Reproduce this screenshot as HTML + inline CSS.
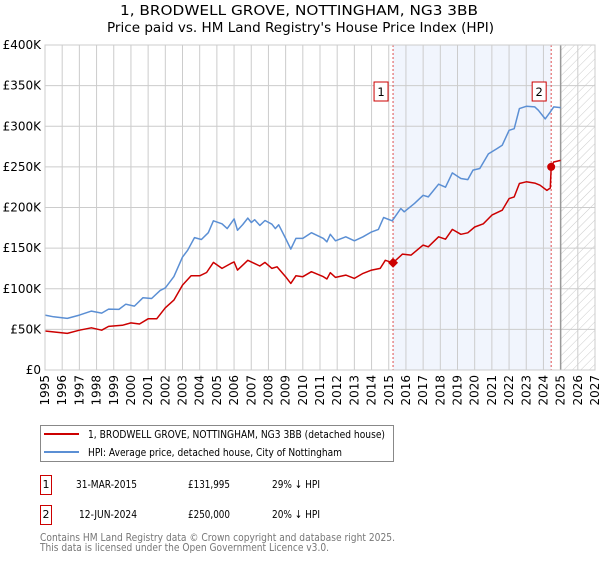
<!DOCTYPE html>
<html><head><meta charset="utf-8"><style>
body{margin:0;background:#fff;font-family:"Liberation Sans","DejaVu Sans",sans-serif;}
svg text{font-family:"DejaVu Sans","Liberation Sans",sans-serif;}
</style></head><body>
<svg id="c" width="600" height="560" xmlns="http://www.w3.org/2000/svg">
<defs><pattern id="hatch" width="6" height="6" patternUnits="userSpaceOnUse" patternTransform="rotate(45)"><line x1="0" y1="0" x2="0" y2="6" stroke="#ccc" stroke-width="1"/></pattern></defs>
<text x="120" y="15" font-size="13" fill="#000" textLength="358" lengthAdjust="spacingAndGlyphs">1, BRODWELL GROVE, NOTTINGHAM, NG3 3BB</text>
<text x="107" y="32" font-size="13" fill="#000" textLength="387" lengthAdjust="spacingAndGlyphs">Price paid vs. HM Land Registry's House Price Index (HPI)</text>
<g id="plot"></g>
<g>
<rect x="40.5" y="425.5" width="353" height="36" fill="#fff" stroke="#888"/>
<line x1="44" y1="434" x2="79" y2="434" stroke="#cc0000" stroke-width="2"/>
<text x="88" y="438" font-size="11" textLength="297" lengthAdjust="spacingAndGlyphs">1, BRODWELL GROVE, NOTTINGHAM, NG3 3BB (detached house)</text>
<line x1="44" y1="452" x2="79" y2="452" stroke="#5b8fd4" stroke-width="2"/>
<text x="88" y="456" font-size="11" textLength="254" lengthAdjust="spacingAndGlyphs">HPI: Average price, detached house, City of Nottingham</text>
</g>
<g font-size="11">
<rect x="40.5" y="475.5" width="11" height="19" fill="#fff" stroke="#cc0000"/><text x="46" y="488" text-anchor="middle">1</text>
<text x="76" y="488" textLength="61" lengthAdjust="spacingAndGlyphs">31-MAR-2015</text><text x="188" y="488" textLength="42" lengthAdjust="spacingAndGlyphs">£131,995</text><text x="272" y="488" textLength="48" lengthAdjust="spacingAndGlyphs">29% ↓ HPI</text>
<rect x="40.5" y="505.5" width="11" height="19" fill="#fff" stroke="#cc0000"/><text x="46" y="518" text-anchor="middle">2</text>
<text x="79" y="518" textLength="58" lengthAdjust="spacingAndGlyphs">12-JUN-2024</text><text x="188" y="518" textLength="42" lengthAdjust="spacingAndGlyphs">£250,000</text><text x="272" y="518" textLength="48" lengthAdjust="spacingAndGlyphs">20% ↓ HPI</text>
</g>
<text x="40" y="541" font-size="11" fill="#777" textLength="355" lengthAdjust="spacingAndGlyphs">Contains HM Land Registry data © Crown copyright and database right 2025.</text>
<text x="40" y="551" font-size="11" fill="#777" textLength="289" lengthAdjust="spacingAndGlyphs">This data is licensed under the Open Government Licence v3.0.</text>
</svg>
<script>
const yTicks=[0,50,100,150,200,250,300,350,400];
const yTickLabels=["£0","£50K","£100K","£150K","£200K","£250K","£300K","£350K","£400K"];
const xYears=[1995,1996,1997,1998,1999,2000,2001,2002,2003,2004,2005,2006,2007,2008,2009,2010,2011,2012,2013,2014,2015,2016,2017,2018,2019,2020,2021,2022,2023,2024,2025,2026,2027];
const hpiT=[1995.0,1995.5,1996.3,1997.0,1997.7,1998.3,1998.7,1999.3,1999.7,2000.2,2000.7,2001.2,2001.7,2002.0,2002.5,2003.0,2003.3,2003.7,2004.1,2004.5,2004.8,2005.3,2005.6,2006.0,2006.2,2006.5,2006.8,2007.0,2007.2,2007.5,2007.8,2008.2,2008.4,2008.6,2009.0,2009.3,2009.6,2010.0,2010.5,2011.2,2011.4,2011.6,2011.9,2012.5,2013.0,2013.5,2014.0,2014.4,2014.7,2015.2,2015.7,2015.9,2016.5,2017.0,2017.3,2017.9,2018.3,2018.7,2019.2,2019.6,2019.9,2020.3,2020.8,2021.3,2021.6,2022.0,2022.3,2022.6,2023.0,2023.5,2023.7,2024.1,2024.4,2024.6,2025.0];
const hpiV=[67.6,65.5,63.5,67.6,72.5,70,75,74.6,81,78.7,89,88,98,101,115,139,147.5,163,160.6,169,183.6,180,174,186,172,179,187,181.5,185,178,184,179.5,174,178.7,162,148.8,162,162,169,162,157.8,167,159,164,159,164,170,173,187.7,183.6,198.8,194.7,205,215,213,228.7,225,242.6,235.7,234.4,246,248,266,272.5,276.6,295,297,321.7,324.6,323.8,319.7,309,317.6,323.8,323];
const priceT=[1995.0,1996.3,1997.0,1997.7,1998.3,1998.7,1999.5,2000.0,2000.5,2001.0,2001.5,2002.0,2002.5,2003.0,2003.5,2004.0,2004.4,2004.8,2005.3,2005.8,2006.0,2006.2,2006.5,2006.8,2007.2,2007.5,2007.8,2008.2,2008.5,2009.0,2009.3,2009.6,2010.0,2010.5,2011.2,2011.4,2011.6,2011.9,2012.5,2013.0,2013.5,2014.0,2014.5,2014.8,2015.25,2015.8,2016.3,2017.0,2017.3,2017.9,2018.3,2018.7,2019.2,2019.6,2020.0,2020.5,2021.0,2021.6,2022.0,2022.3,2022.6,2023.0,2023.5,2023.8,2024.2,2024.4,2024.45,2024.6,2025.0];
const priceV=[48,45,49,52,49,53.7,55,58,56.6,63,63,76.6,86,104.5,116,116,120,132.4,125,131,133,123,129,135,131,128,132.4,125,127,114.8,106.6,116,114.8,121,114.8,112,119.7,114,116.8,112.7,118.9,123,125,135,132,142.6,141.4,153.7,151.6,164,161,173,167,168.9,176,180,190.6,196.7,211,213,229.5,231.6,230,227.5,221,224,250,256,258];
const saleT=[2015.25,2024.45];
const saleV=[131.995,250];
const saleLabels=["1","2"];

const L=45,R=595,T=45,B=370,X0=1995,X1=2027;
const x=t=>L+(t-X0)/(X1-X0)*(R-L);
const y=v=>B-v/400*(B-T);
const NS="http://www.w3.org/2000/svg";
const g=document.getElementById('plot');
function mk(tag,attrs,parent){const e=document.createElementNS(NS,tag);for(const k in attrs)e.setAttribute(k,attrs[k]);(parent||g).appendChild(e);return e;}
let sh=mk('rect',{x:x(saleT[0]),y:T,width:x(saleT[1])-x(saleT[0]),height:B-T,fill:'#eef3fc',opacity:0.8});


let ht=mk('rect',{x:x(2025),y:T,width:R-x(2025),height:B-T,fill:'url(#hatch)'});


yTicks.forEach((v,i)=>{
  let ln=mk('line',{x1:L,x2:R,y1:y(v),y2:y(v),stroke:'#ccc','stroke-width':1});
  
  
  let tx=mk('text',{x:L-4,y:y(v)+4,'text-anchor':'end','font-size':12,fill:'#000'});
  tx.textContent=yTickLabels[i];
  
  
});
xYears.forEach(t=>{
  let ln=mk('line',{x1:x(t),x2:x(t),y1:T,y2:B,stroke:'#ccc','stroke-width':1});
  
  
  let tx=mk('text',{x:0,y:0,'text-anchor':'end','font-size':12,fill:'#000',transform:`translate(${x(t)+4},${B+5}) rotate(-90)`});
  tx.textContent=t;
  
  
});
let nl=mk('line',{x1:x(2025),x2:x(2025),y1:T,y2:B,stroke:'#999','stroke-width':1.5});


saleT.forEach(t=>{
  let ln=mk('line',{x1:x(t),x2:x(t),y1:T,y2:B,stroke:'#e05050','stroke-width':1,'stroke-dasharray':'2,2'});
  
  
});
function path(ts,vs,col,name){
  let d=ts.map((t,i)=>(i?'L':'M')+x(t).toFixed(1)+','+y(vs[i]).toFixed(1)).join('');
  let p=mk('path',{d:d,fill:'none',stroke:col,'stroke-width':1.5,'stroke-linejoin':'round'});
  
  
}
path(hpiT,hpiV,'#5b8fd4','hpi-line');
path(priceT,priceV,'#cc0000','price-paid-line');
saleT.forEach((t,i)=>{
  let m;
  if(i===0){m=mk('path',{d:`M${x(t)},${y(saleV[i])-5}l5,5l-5,5l-5,-5z`,fill:'#cc0000'});}
  else{m=mk('circle',{cx:x(t),cy:y(saleV[i]),r:4,fill:'#cc0000'});}
  
  
  let bx=mk('rect',{x:x(t)-19,y:82,width:14,height:19,fill:'#fff',stroke:'#cc0000'});
  
  
  let tx=mk('text',{x:x(t)-12,y:96,'text-anchor':'middle','font-size':11.5});
  tx.textContent=saleLabels[i];
  
  
});
let fr=mk('rect',{x:L,y:T,width:R-L,height:B-T,fill:'none',stroke:'#ccc'});


</script>
</body></html>
